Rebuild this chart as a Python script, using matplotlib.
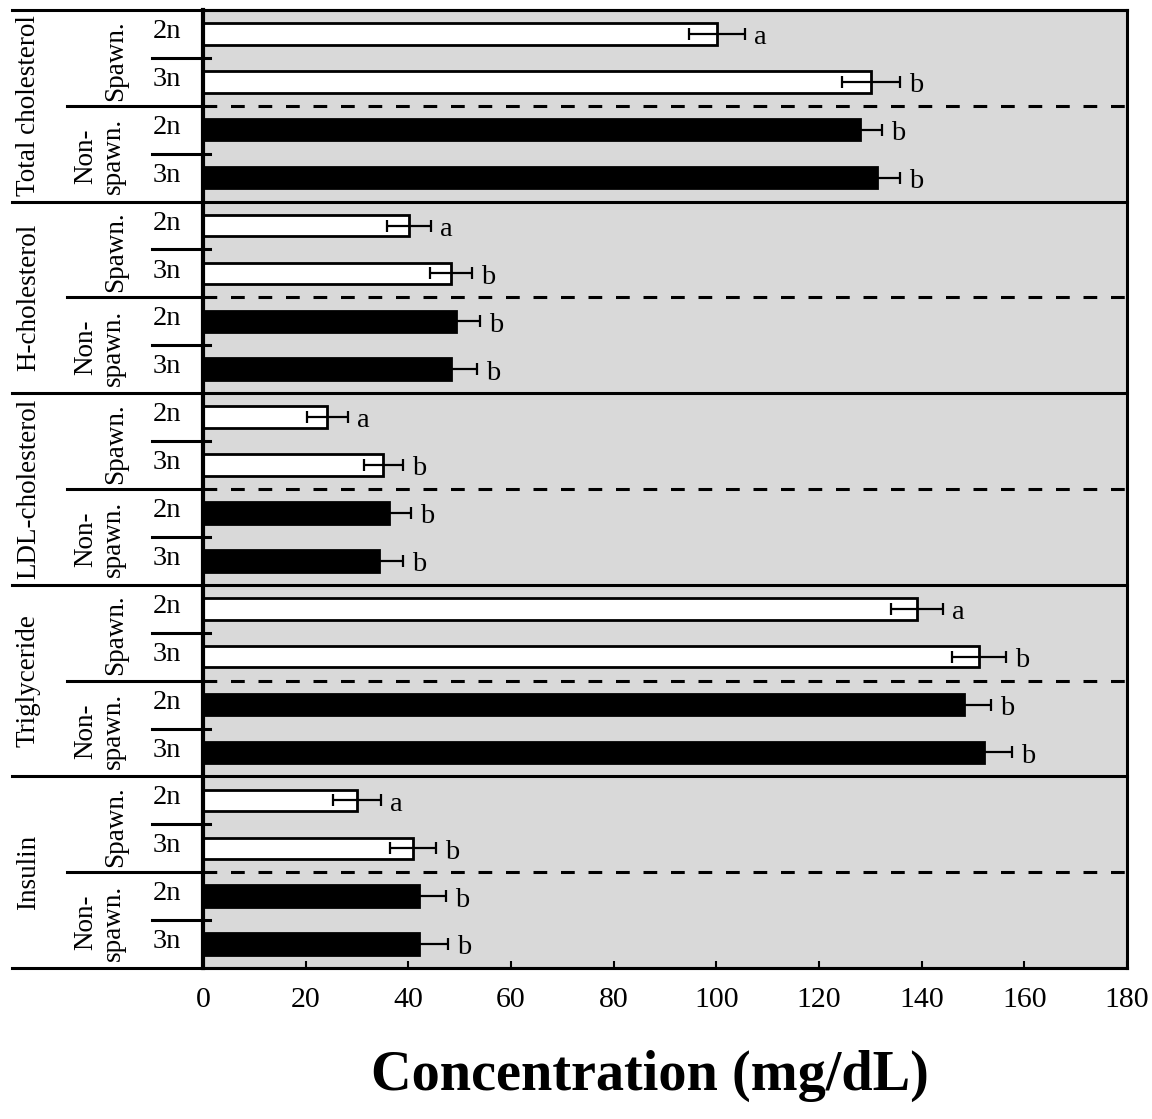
import numpy as np
import matplotlib
matplotlib.use('Agg')
import matplotlib.pyplot as plt
import matplotlib.transforms as mtransforms

plt.rcParams['font.family'] = ['Liberation Serif', 'DejaVu Serif']

groups = ['Total cholesterol', 'H-cholesterol', 'LDL-cholesterol', 'Triglyceride', 'Insulin']
ploidy = ['2n', '3n', '2n', '3n']
spawning = ['Spawn.', 'Non-\nspawn.']

# values per group: spawn 2n, spawn 3n, non-spawn 2n, non-spawn 3n
values = [
    [100.1, 130.1, 128.0, 131.3],
    [40.1, 48.3, 49.3, 48.3],
    [24.2, 35.1, 36.2, 34.3],
    [139.1, 151.2, 148.3, 152.2],
    [30.0, 40.9, 42.1, 42.1],
]
errors = [
    [5.5, 5.7, 4.3, 4.5],
    [4.3, 4.1, 4.7, 5.0],
    [4.0, 3.8, 4.3, 4.6],
    [5.0, 5.2, 5.2, 5.4],
    [4.7, 4.5, 5.2, 5.6],
]
letters = [
    ['a', 'b', 'b', 'b'],
    ['a', 'b', 'b', 'b'],
    ['a', 'b', 'b', 'b'],
    ['a', 'b', 'b', 'b'],
    ['a', 'b', 'b', 'b'],
]
xticks = [0, 20, 40, 60, 80, 100, 120, 140, 160, 180]

fig = plt.figure(figsize=(11.52, 11.19), dpi=100)
ax = fig.add_axes([0.1762, 0.1349, 0.9783 - 0.1762, 0.9911 - 0.1349])
ax.set_facecolor('#d9d9d9')

fs = 20.5     # horizontal labels
fr = 19.5     # rotated labels
lw = 2.2
trans = mtransforms.blended_transform_factory(ax.transAxes, ax.transData)

for g, name in enumerate(groups):
    for j in range(4):
        y = g * 4 + j
        v = values[g][j]
        e = errors[g][j]
        fc = 'white' if j < 2 else 'black'
        ax.barh(y, v, height=0.45, color=fc, edgecolor='black', linewidth=2, zorder=2)
        ax.errorbar(v, y, xerr=e, fmt='none', ecolor='black', elinewidth=1.6,
                    capsize=4.3, capthick=1.6, zorder=3)
        ax.text(v + e + 1.8, y + 0.08, letters[g][j], fontsize=fs, ha='left', va='center')
        ax.text(-0.039, y - 0.05, ploidy[j], fontsize=fs, ha='center', va='center', transform=trans)
    # small separators between 2n and 3n
    for k in (0.5, 2.5):
        ax.plot([-0.0552, 0.0076], [g * 4 + k] * 2, color='black', lw=lw,
                transform=trans, clip_on=False, zorder=4)
    # spawn / non-spawn separator
    ax.plot([-0.147, 0], [g * 4 + 1.5] * 2, color='black', lw=lw,
            transform=trans, clip_on=False, zorder=4)
    dl, = ax.plot([0, 1], [g * 4 + 1.5] * 2, color='black', lw=lw,
                  transform=trans, clip_on=False, zorder=4)
    dl.set_dashes([4.5, 4.5])
    # group separators
    ax.plot([-0.2067, 1], [g * 4 - 0.5] * 2, color='black', lw=lw,
            transform=trans, clip_on=False, zorder=4)
    ax.text(-0.095, g * 4 + 0.55, spawning[0], fontsize=fr, rotation=90,
            ha='center', va='center', transform=trans)
    ax.text(-0.112, g * 4 + 2.55, spawning[1], fontsize=fr, rotation=90,
            ha='center', va='center', transform=trans, linespacing=1.1)
    ax.text(-0.189, g * 4 + 1.5, name, fontsize=fr, rotation=90,
            ha='center', va='center', transform=trans)

ax.plot([-0.2067, 1], [len(groups) * 4 - 0.5] * 2, color='black', lw=lw,
        transform=trans, clip_on=False, zorder=4)

ax.set_xlim(0, 180)
ax.set_ylim(len(groups) * 4 - 0.5, -0.5)
ax.set_yticks([])
ax.set_xticks(xticks)
ax.set_xticklabels([str(t) for t in xticks], fontsize=21.5)
ax.tick_params(axis='x', direction='in', length=5, width=1.5, pad=14)
for s in ax.spines.values():
    s.set_linewidth(lw)
ax.spines['left'].set_linewidth(3)

fig.text(0.564, 0.0384, 'Concentration (mg/dL)', fontsize=40.5, fontweight='bold',
         ha='center', va='center')

fig.savefig('out.png', dpi=100)
